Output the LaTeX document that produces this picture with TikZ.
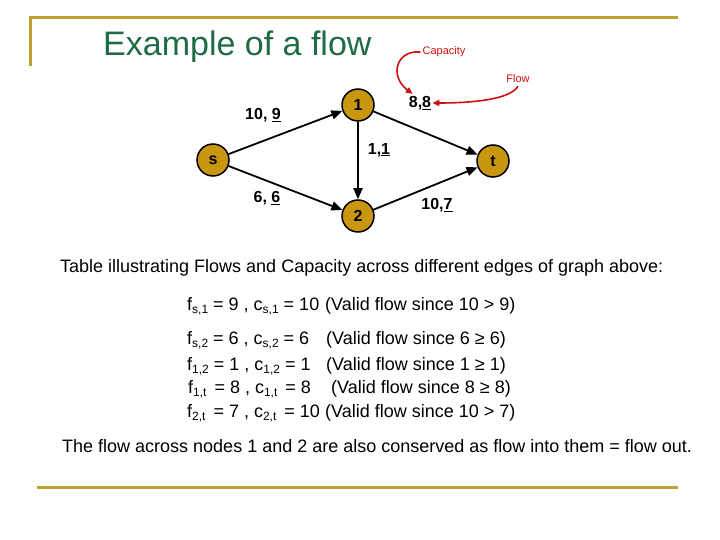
\documentclass[tikz,border=0pt]{standalone}
\usepackage{fontspec}
\setmainfont{Liberation Sans}
\usetikzlibrary{arrows.meta}
\definecolor{goldline}{HTML}{C2A030}
\definecolor{titlegreen}{HTML}{1F6B45}
\definecolor{nodegold}{HTML}{C9960F}
\definecolor{annred}{HTML}{CC1111}
\newcommand\sbx[1]{\raisebox{-3.5pt}{\fontsize{12}{12}\selectfont #1}}
\tikzset{
  vert/.style={circle, draw=black, line width=1.5pt, fill=nodegold, minimum size=32pt, inner sep=0pt, font=\fontsize{16}{18}\selectfont\bfseries},
  edge/.style={line width=1.8pt, -{Triangle[length=11pt,width=9pt]}},
  elab/.style={font=\fontsize{16}{18}\selectfont\bfseries, inner sep=1pt},
  body/.style={font=\fontsize{18}{21}\selectfont, anchor=west, inner sep=0pt},
  eqn/.style={font=\fontsize{18}{21}\selectfont, anchor=base west, inner sep=0pt},
  ann/.style={font=\fontsize{11}{13}\selectfont, text=annred, inner sep=1pt},
  annarrow/.style={draw=annred, line width=1.6pt, -{Triangle[length=7pt,width=6pt]}},
  rule/.style={draw=goldline, line width=3pt}
}
\begin{document}
\begin{tikzpicture}[x=1pt,y=-1pt]
\useasboundingbox (0,0) rectangle (720,540);
% frame lines
\draw[rule] (30,66) -- (30,18) -- (678,18);
\draw[rule] (37,487) -- (678,487);
% title
\node[font=\fontsize{34}{40}\selectfont, text=titlegreen, anchor=west, inner sep=0pt] (title) at (103,47) {Example of a flow};
% graph nodes
\node[vert] (s) at (213,160) {s};
\node[vert] (n1) at (358,105) {1};
\node[vert] (n2) at (358,216) {2};
\node[vert] (t) at (493,161) {t};
% edges
\draw[edge] (s) -- (n1);
\draw[edge] (s) -- (n2);
\draw[edge] (n1) -- (n2);
\draw[edge] (n1) -- (t);
\draw[edge] (n2) -- (t);
% edge labels
\node[elab] (ls1) at (263,115) {10, \underline{9}};
\node[elab] (ls2) at (267,198) {6, \underline{6}};
\node[elab] (l12) at (379,150) {1,\underline{1}};
\node[elab] (l1t) at (420,103) {8,\underline{8}};
\node[elab] (l2t) at (437,205) {10,\underline{7}};
% annotations
\node[ann] (cap) at (444,52) {Capacity};
\node[ann] (flw) at (518,79) {Flow};
\draw[annarrow] ([xshift=-1pt]cap.west) .. controls (396,50) and (389,76) .. ([xshift=5pt,yshift=1pt]l1t.north west);
\draw[annarrow] ([yshift=-2pt]flw.south) .. controls (510,100) and (470,103) .. (l1t.east);
% text
\node[body] (tab) at (60,268) {Table illustrating Flows and Capacity across different edges of graph above:};
\node[eqn] (f1) at (187,310) {f\sbx{s,1} = 9 , c\sbx{s,1} = 10};
\node[eqn] (v1) at (325,310) {(Valid flow since 10 > 9)};
\node[eqn] (f2) at (187,344) {f\sbx{s,2} = 6 , c\sbx{s,2} = 6};
\node[eqn] (v2) at (326,344) {(Valid flow since 6 ≥ 6)};
\node[eqn] (f3) at (187,370) {f\sbx{1,2} = 1 , c\sbx{1,2} = 1};
\node[eqn] (v3) at (326,370) {(Valid flow since 1 ≥ 1)};
\node[eqn] (f4) at (188,393) {f\sbx{1,t}\hspace{3pt} = 8 , c\sbx{1,t}\hspace{3pt} = 8};
\node[eqn] (v4) at (331,393) {(Valid flow since 8 ≥ 8)};
\node[eqn] (f5) at (187,417) {f\sbx{2,t}\hspace{3pt} = 7 , c\sbx{2,t}\hspace{3pt} = 10};
\node[eqn] (v5) at (325,417) {(Valid flow since 10 > 7)};
\node[body] (concl) at (62,446) {The flow across nodes 1 and 2 are also conserved as flow into them = flow out.};
\end{tikzpicture}
\end{document}
